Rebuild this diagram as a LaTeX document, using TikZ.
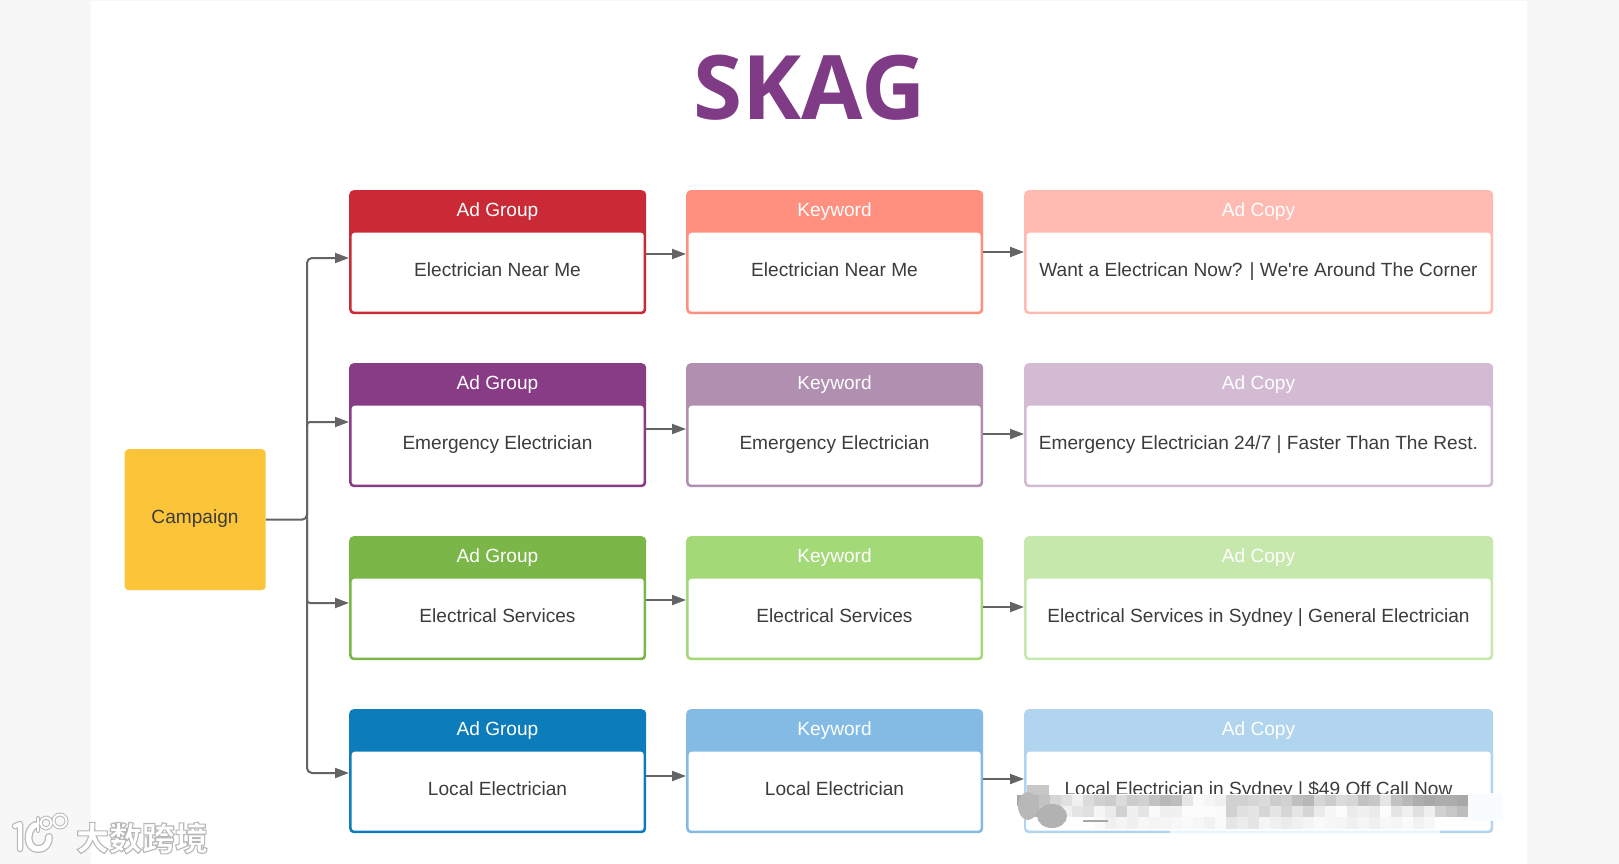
\documentclass[tikz,border=0pt]{standalone}
\usepackage{fontspec}
\usetikzlibrary{arrows.meta,calc}
\setmainfont{Liberation Sans}
\newfontfamily\titlefont{Open Sans}
\newfontfamily\cjkfont{Noto Sans CJK SC}
\definecolor{pagebg}{HTML}{F7F7F7}
\definecolor{skag}{HTML}{7F3B85}
\definecolor{inktext}{HTML}{3C3C3C}
\definecolor{conn}{HTML}{646464}
\definecolor{campfill}{HTML}{FCC438}
\definecolor{redA}{HTML}{C92A35}\definecolor{redB}{HTML}{FF8F7E}\definecolor{redC}{HTML}{FFBBB1}
\definecolor{purA}{HTML}{873C85}\definecolor{purB}{HTML}{B08FB0}\definecolor{purC}{HTML}{D3BBD3}
\definecolor{grnA}{HTML}{7AB648}\definecolor{grnB}{HTML}{A3D977}\definecolor{grnC}{HTML}{C7E8AC}
\definecolor{bluA}{HTML}{0C7CBA}\definecolor{bluB}{HTML}{83BBE5}\definecolor{bluC}{HTML}{B2D5EF}
\tikzset{
  boxouter/.style={rounded corners=4.5pt,inner sep=0pt,anchor=north west,minimum height=124pt},
  boxinner/.style={rounded corners=3pt,fill=white,inner sep=0pt,anchor=north west,minimum height=79pt},
  boxtext/.style={inner sep=0pt,text height=14pt,text depth=4pt,font=\fontsize{19.1}{22}\selectfont},
  link/.style={draw=conn,line width=2pt,-{Triangle[length=14pt,width=10pt]},rounded corners=5pt}
}
\newcommand{\skagbox}[7]{% name x y width colour head body
  \node[boxouter,fill=#5,minimum width=#4pt] (#1) at (#2,#3) {};
  \node[boxinner,minimum width=#4pt-5pt] (#1b) at (#2+2.5,#3+42.5) {};
  \node[boxtext,text=inktext] (#1t) at (#2+#4/2,#3+81.5) {#7};
  \node[boxtext,text=white] (#1h) at (#2+#4/2,#3+21.5) {#6};
}
\begin{document}
\begin{tikzpicture}[x=1pt,y=-1pt]
\useasboundingbox (0,0) rectangle (1619,864);
\fill[pagebg] (0,0) rectangle (1619,864);
\fill[white] (91,1) rectangle (1527,864);
\node[inner sep=0pt,text=skag,font=\titlefont\bfseries\fontsize{89}{96}\selectfont] (title) at (809.5,88) {SKAG};
% campaign
\node[fill=campfill,rounded corners=4pt,minimum width=141pt,minimum height=141pt,inner sep=0pt,anchor=north west] (camp) at (124.5,449) {};
\node[boxtext,text=inktext] (campt) at (195,518) {Campaign};
% rows
\skagbox{aa}{349}{190}{297}{redA}{Ad Group}{Electrician Near Me}
\skagbox{ab}{686}{190}{297}{redB}{Keyword}{Electrician Near Me}
\skagbox{ac}{1024}{190}{469}{redC}{Ad Copy}{Want a Electrican Now? | We\textquotesingle re Around The Corner}
\skagbox{ba}{349}{363}{297}{purA}{Ad Group}{Emergency Electrician}
\skagbox{bb}{686}{363}{297}{purB}{Keyword}{Emergency Electrician}
\skagbox{bc}{1024}{363}{469}{purC}{Ad Copy}{Emergency Electrician 24/7 | Faster Than The Rest.}
\skagbox{ca}{349}{536}{297}{grnA}{Ad Group}{Electrical Services}
\skagbox{cb}{686}{536}{297}{grnB}{Keyword}{Electrical Services}
\skagbox{cc}{1024}{536}{469}{grnC}{Ad Copy}{Electrical Services in Sydney | General Electrician}
\skagbox{da}{349}{709}{297}{bluA}{Ad Group}{Local Electrician}
\skagbox{db}{686}{709}{297}{bluB}{Keyword}{Local Electrician}
\skagbox{dc}{1024}{709}{469}{bluC}{Ad Copy}{Local Electrician in Sydney | \$49 Off Call Now}
% connectors: trunk
\coordinate (trunk) at (camp.east -| 307,0);
\draw[link] (camp.east) -- (trunk) -- (trunk |- 0,258) -- (aa.west |- 0,258);
\draw[link,rounded corners=3pt] (trunk) -- (trunk |- 0,422) -- (ba.west |- 0,422);
\draw[link,rounded corners=3pt] (trunk) -- (trunk |- 0,603) -- (ca.west |- 0,603);
\draw[link] (trunk) -- (trunk |- 0,773) -- (da.west |- 0,773);
% across
\draw[link] (aa.east |- 0,254) -- (ab.west |- 0,254);
\draw[link] (ab.east |- 0,252) -- (ac.west |- 0,252);
\draw[link] (ba.east |- 0,429) -- (bb.west |- 0,429);
\draw[link] (bb.east |- 0,434) -- (bc.west |- 0,434);
\draw[link] (ca.east |- 0,600) -- (cb.west |- 0,600);
\draw[link] (cb.east |- 0,607) -- (cc.west |- 0,607);
\draw[link] (da.east |- 0,776) -- (db.west |- 0,776);
\draw[link] (db.east |- 0,779) -- (dc.west |- 0,779);
% mosaic over the last ad copy line
\fill[white] (1026,794) rectangle (1463,829);
\fill[white,opacity=.75] (1170,829) rectangle (1440,835);
\fill[white!92!bluC] (1463,793) rectangle (1503,821);
\fill[black!22] (1027,785) rectangle +(22,11);
\foreach \col/\gr in {0/66,1/72,2/76,3/84,4/88,5/94,6/86,7/82,8/80,9/86,10/80,11/82,12/76,13/72,14/74,15/90,16/98,17/96,18/94,19/82,20/82,21/84,22/86,23/80,24/82,25/75,26/72,27/84,28/80,29/86,30/84,31/76,32/78,33/90,34/76,35/72,36/68,37/66,38/68,39/68,40/66}{
  \fill[black!\the\numexpr100-\gr\relax] ({1017+\col*11},795) rectangle +(11,11);
}
\foreach \col/\gr in {1/70,2/80,3/90,4/94,5/90,6/88,7/96,8/92,9/82,10/94,11/90,12/98,13/94,14/94,15/99,16/99,17/99,18/98,19/82,20/88,21/90,22/84,23/90,24/84,25/90,26/84,27/92,28/97,29/99,30/92,31/94,32/92,33/99,34/90,35/94,36/88,37/94,38/82,39/78,40/74}{
  \fill[black!\the\numexpr100-\gr\relax] ({1017+\col*11},806) rectangle +(11,11);
}
\foreach \col/\gr in {7/98,8/94,9/96,10/94,11/97,12/96,13/96,14/97,15/98,16/97,17/95,18/98,19/90,20/92,21/90,22/96,23/94,24/92,25/94,26/96,27/98,28/97,29/96,30/94,31/96,32/94,33/97,34/96,35/98,36/95,37/97}{
  \fill[black!\the\numexpr100-\gr\relax] ({1017+\col*11},817) rectangle +(11,12);
}
\fill[black!28] (1028,806) ellipse (10 and 14);
\fill[black!30] (1052,816) ellipse (15 and 12);
\draw[black!35,line width=1.5pt] (1083,821) -- (1108,821);
% watermark logo and name
\begin{scope}[line cap=round,line join=round]
\foreach \w/\c in {1/black!28,0/white}{
  \draw[\c,line width=4pt+\w*2.5pt] (15,826) -- (20,824) -- (20,849);
  \draw[\c,line width=5.5pt+\w*2.5pt] (35,825) .. controls (26,830) and (26,849) .. (38,849) .. controls (45,849) and (49,844) .. (49,837);
  \draw[\c,line width=2pt+\w*2pt] (38,818) -- (38,831);
  \draw[\c,line width=2pt+\w*2pt] (46,823) circle (5.5);
  \draw[\c,line width=2pt+\w*2pt] (60,821) circle (6.5);
}
\end{scope}
\node[inner sep=0pt,text=white,font=\cjkfont\bfseries\fontsize{33}{36}\selectfont] (mark) at (142,838)
  {\special{pdf:code 2 Tr 1.1 w 0.72 G 1 g}大数跨境\special{pdf:code 0 Tr}};
\end{tikzpicture}
\end{document}
